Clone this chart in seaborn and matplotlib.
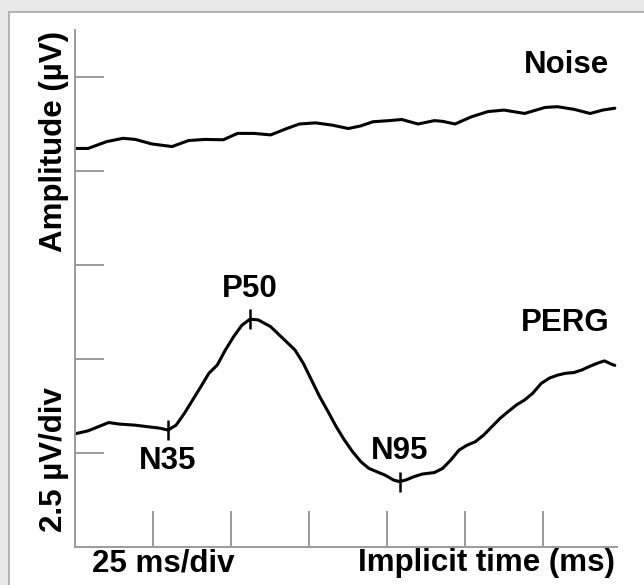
import matplotlib
matplotlib.use('Agg')
import matplotlib.pyplot as plt
from matplotlib.patches import Rectangle
import seaborn as sns
import pandas as pd

# Traces (time in ms, amplitude in uV)
noise_time = [0.0, 4.2, 10.1, 15.4, 19.3, 24.6, 31.1, 36.4, 41.6, 47.5, 52.1, 57.4,
              62.7, 67.9, 71.9, 77.1, 82.4, 87.6, 91.6, 95.5, 100.7, 104.7, 109.9,
              115.2, 117.8, 121.8, 127.0, 132.3, 137.5, 144.1, 150.6, 154.6, 159.9,
              165.1, 169.1, 173.0]
noise_amp = [10.60, 10.60, 10.78, 10.87, 10.84, 10.72, 10.65, 10.81, 10.84, 10.83,
             11.00, 11.00, 10.96, 11.13, 11.25, 11.28, 11.22, 11.13, 11.20, 11.31,
             11.34, 11.37, 11.25, 11.34, 11.32, 11.25, 11.44, 11.58, 11.62, 11.53,
             11.69, 11.71, 11.64, 11.53, 11.62, 11.67]

perg_time = [0.0, 4.2, 7.5, 10.8, 14.1, 19.3, 23.2, 27.2, 29.8, 32.4, 35.1, 37.7,
             40.3, 42.9, 45.6, 48.2, 50.8, 53.5, 56.1, 58.7, 62.7, 66.6, 70.5, 73.2,
             75.8, 78.4, 81.1, 83.7, 86.3, 88.9, 91.6, 94.2, 96.8, 99.4, 102.1, 104.0,
             106.0, 108.6, 111.3, 115.2, 117.8, 120.4, 123.1, 125.7, 128.3, 131.0,
             133.6, 136.2, 138.8, 141.5, 144.1, 146.7, 149.4, 152.0, 154.6, 157.2,
             159.9, 162.5, 165.1, 167.8, 169.7, 171.7, 173.0]
perg_amp = [3.01, 3.09, 3.20, 3.31, 3.27, 3.24, 3.20, 3.16, 3.11, 3.24, 3.56, 3.91,
            4.26, 4.62, 4.84, 5.24, 5.59, 5.90, 6.06, 6.04, 5.86, 5.55, 5.24, 4.88,
            4.44, 4.00, 3.60, 3.20, 2.85, 2.54, 2.27, 2.09, 2.00, 1.91, 1.78, 1.74,
            1.78, 1.87, 1.94, 1.98, 2.09, 2.31, 2.58, 2.71, 2.80, 2.98, 3.20, 3.42,
            3.60, 3.78, 3.91, 4.09, 4.35, 4.49, 4.57, 4.62, 4.64, 4.71, 4.81, 4.90,
            4.95, 4.87, 4.83]

peak_names = ['N35', 'P50', 'N95']
peak_time = [29.8, 56.1, 104.0]
peak_amp = [3.11, 6.06, 1.74]
label_side = [-1, 1, 1]  # below / above the marker

x_ticks = [25, 50, 75, 100, 125, 150]
y_ticks = [2.5, 5.0, 7.5, 10.0, 12.5]

sns.set_style('white')
plt.rcParams['font.family'] = ['Liberation Sans', 'DejaVu Sans']
plt.rcParams['font.weight'] = 'bold'
plt.rcParams['text.color'] = 'black'

FS = 22.5

fig = plt.figure(figsize=(6.44, 5.85), dpi=100)
fig.set_facecolor('#e8e8e8')
# card frame (top-left edge of the screenshot)
fig.patches.append(Rectangle((9 / 644, -0.1), 1.2, 0.1 + (585 - 12) / 585,
                             transform=fig.transFigure, facecolor='white',
                             edgecolor='#a9a9a9', lw=1.2, zorder=-10))

ax = fig.add_axes([75 / 644, 38 / 585, 542 / 644, 517 / 585])
ax.set_zorder(2)
ax.set_facecolor('none')

noise = pd.DataFrame({'time': noise_time, 'amp': noise_amp})
perg = pd.DataFrame({'time': perg_time, 'amp': perg_amp})
sns.lineplot(data=noise, x='time', y='amp', ax=ax, color='black', lw=2.2,
             sort=False, estimator=None)
sns.lineplot(data=perg, x='time', y='amp', ax=ax, color='black', lw=2.2,
             sort=False, estimator=None)

ax.plot(peak_time, peak_amp, ls='none', marker='|', ms=15, mew=1.8, color='black')
for name, t, a, side in zip(peak_names, peak_time, peak_amp, label_side):
    ax.annotate(name, (t, a), xytext=(0, 22 * side), textcoords='offset points',
                ha='center', va='center', fontsize=FS, fontweight='bold')

ax.text(171.2, 12.82, 'Noise', ha='right', va='center', fontsize=FS, fontweight='bold')
ax.text(171.2, 5.96, 'PERG', ha='right', va='center', fontsize=FS, fontweight='bold')

ax.set_xlim(0, 173.7)
ax.set_ylim(0, 13.75)
ax.set_xticks(x_ticks)
ax.set_yticks(y_ticks)
ax.set_xticklabels([])
ax.set_yticklabels([])
ax.set_xlabel('')
ax.set_ylabel('')
ax.tick_params(axis='x', direction='in', length=26, width=1.4, colors='#9a9a9a', bottom=True)
ax.tick_params(axis='y', direction='in', length=21, width=1.4, colors='#9a9a9a', left=True)
sns.despine(ax=ax)
for side in ['left', 'bottom']:
    ax.spines[side].set_color('#9a9a9a')
    ax.spines[side].set_linewidth(1.4)

fig.text(92 / 644, (585 - 563) / 585, '25 ms/div', ha='left', va='center',
         fontsize=FS, fontweight='bold')
fig.text(615 / 644, (585 - 563) / 585, 'Implicit time (ms)', ha='right', va='center',
         fontsize=FS, fontweight='bold')
fig.text(54 / 644, (585 - 142) / 585, 'Amplitude (µV)', rotation=90, ha='center',
         va='center', fontsize=FS, fontweight='bold')
fig.text(54 / 644, (585 - 460) / 585, '2.5 µV/div', rotation=90, ha='center',
         va='center', fontsize=FS, fontweight='bold')

fig.savefig('out.png', dpi=100, facecolor=fig.get_facecolor())
